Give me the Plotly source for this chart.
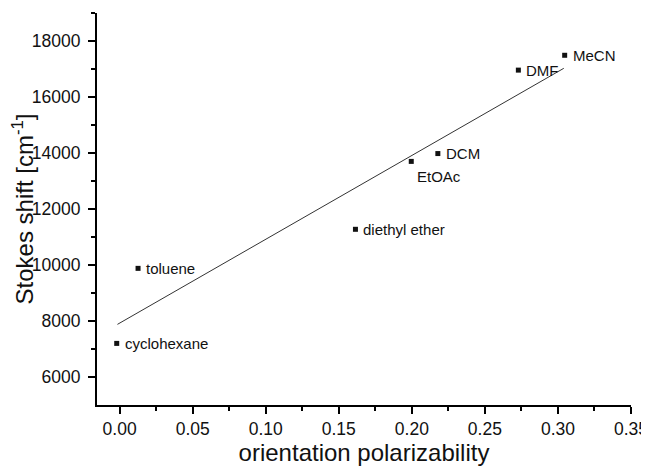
import plotly.graph_objects as go

solvents = ["cyclohexane", "toluene", "diethyl ether", "EtOAc", "DCM", "DMF", "MeCN"]
polarizability = [-0.002, 0.0126, 0.1614, 0.1996, 0.2178, 0.2729, 0.3046]
stokes_shift = [7200, 9880, 11275, 13700, 13980, 16960, 17490]

fit_x = [-0.0015, 0.304]
fit_y = [7880, 17025]

x_ticks = [0.00, 0.05, 0.10, 0.15, 0.20, 0.25, 0.30, 0.35]
y_ticks = [6000, 8000, 10000, 12000, 14000, 16000, 18000]

font_family = "Liberation Sans, Arial, sans-serif"

fig = go.Figure()
fig.add_trace(go.Scatter(x=fit_x, y=fit_y, mode="lines",
                         line=dict(color="#333333", width=1), showlegend=False))
fig.add_trace(go.Scatter(x=polarizability, y=stokes_shift, mode="markers",
                         marker=dict(symbol="square", size=5, color="#111111"),
                         showlegend=False))

label_offsets = {"EtOAc": (4, -15)}
for name, xv, yv in zip(solvents, polarizability, stokes_shift):
    dx, dy = label_offsets.get(name, (6, 0))
    fig.add_annotation(x=xv, y=yv, text=name, showarrow=False, xanchor="left",
                       yanchor="middle", xshift=dx, yshift=dy,
                       font=dict(family=font_family, size=15, color="#111111"))

# page body adds ~8px offset; margins compensate so the plot area lands in place
fig.update_layout(
    width=649, height=468,
    margin=dict(l=89, r=26, t=5, b=71),
    plot_bgcolor="white", paper_bgcolor="white",
    font=dict(family=font_family, color="#111111"),
)
fig.update_xaxes(
    range=[-0.0155, 0.35], tickvals=x_ticks,
    ticktext=[f"{v:.2f}" for v in x_ticks],
    showline=True, linecolor="black", linewidth=2, mirror=False,
    ticks="outside", ticklen=7, tickwidth=1.5, tickcolor="black",
    minor=dict(tickvals=[0.025, 0.075, 0.125, 0.175, 0.225, 0.275, 0.325],
               ticks="outside", ticklen=4, tickwidth=1.5, tickcolor="black"),
    showgrid=False, zeroline=False, automargin=False,
    ticklabeloverflow="allow",
    tickfont=dict(size=17.5),
    title=dict(text="orientation polarizability", font=dict(size=24), standoff=3),
)
fig.update_yaxes(
    range=[5000, 19000], tickvals=y_ticks,
    ticktext=[str(v) for v in y_ticks],
    showline=True, linecolor="black", linewidth=2,
    ticks="outside", ticklen=7, tickwidth=1.5, tickcolor="black",
    minor=dict(tickvals=[7000, 9000, 11000, 13000, 15000, 17000, 19000],
               ticks="outside", ticklen=4, tickwidth=1.5, tickcolor="black"),
    showgrid=False, zeroline=False, automargin=False,
    ticklabelstandoff=4,
    tickfont=dict(size=17.5),
    title=dict(text="Stokes shift [cm<sup>-1</sup>]", font=dict(size=24), standoff=0),
)

fig.write_html("out.html")
